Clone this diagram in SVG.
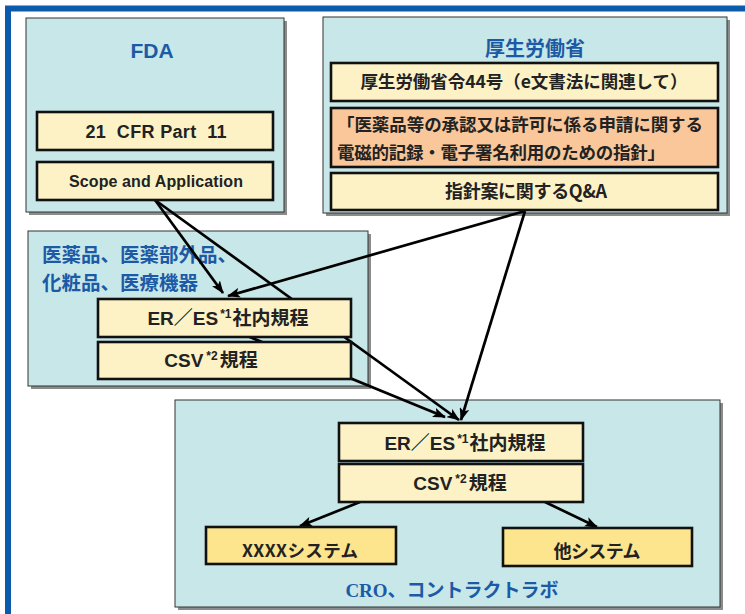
<svg xmlns="http://www.w3.org/2000/svg" width="745" height="614" viewBox="0 0 745 614">
<defs>
<style>
.cont{fill:#c8e7e9;stroke:#333;stroke-width:1}
.shadow{fill:#8a8c8c}
.box{fill:#fdf2c6;stroke:#111;stroke-width:2.6}
.box2{fill:#fde58e;stroke:#111;stroke-width:2.6}
.orange{fill:#f9c79a;stroke:#111;stroke-width:2.6}
.ttl{font-family:'Noto Sans CJK JP','Liberation Sans',sans-serif;font-weight:bold;fill:#1d5aa6}
.t{font-family:'Noto Sans CJK JP','Liberation Sans',sans-serif;font-weight:bold;fill:#222}
.lat{font-family:'Liberation Sans',Arial,sans-serif;font-weight:bold;fill:#222}
.l{font-family:'Liberation Sans',Arial,sans-serif}
.sup{font-family:'Liberation Sans',Arial,sans-serif;font-size:12px}
.conn{stroke:#000;stroke-width:2.7;fill:none}
</style>
<marker id="ah" markerUnits="userSpaceOnUse" markerWidth="13" markerHeight="10" refX="12" refY="5" orient="auto">
<path d="M0,0 L13,5 L0,10 L3,5 z" fill="#000"/>
</marker>
</defs>
<rect x="8" y="8.5" width="800" height="700" fill="#fff" stroke="#0b5aab" stroke-width="6"/>

<g id="fda">
<rect class="shadow" x="29" y="21" width="258" height="194"/>
<rect class="cont" x="26" y="18" width="258" height="194"/>
<text class="ttl" x="152" y="58" font-size="21" text-anchor="middle" style="font-family:'Liberation Sans',Arial,sans-serif">FDA</text>
</g>
<g id="mhlw">
<rect class="shadow" x="326" y="20" width="404" height="196"/>
<rect class="cont" x="323" y="17" width="404" height="196"/>
<text class="ttl" x="535" y="56" font-size="20" text-anchor="middle">厚生労働省</text>
</g>
<g id="pharma">
<rect class="shadow" x="31" y="234" width="340" height="155"/>
<rect class="cont" x="28" y="231" width="340" height="155"/>
<text class="ttl" x="42" y="262" font-size="19.5">医薬品、医薬部外品、</text>
<text class="ttl" x="42" y="290" font-size="19.5">化粧品、医療機器</text>
</g>
<g id="cro">
<rect class="shadow" x="178" y="403" width="545" height="207"/>
<rect class="cont" x="175" y="400" width="545" height="207"/>
<text class="ttl" x="452" y="597" font-size="19" text-anchor="middle"><tspan style="font-family:'Liberation Serif',serif">CRO</tspan>、コントラクトラボ</text>
</g>

<g id="connectors">
<line class="conn" x1="155" y1="200" x2="223" y2="293" marker-end="url(#ah)"/>
<line class="conn" x1="155" y1="200" x2="459" y2="420" marker-end="url(#ah)"/>
<line class="conn" x1="525" y1="211" x2="228" y2="296" marker-end="url(#ah)"/>
<line class="conn" x1="525" y1="211" x2="461" y2="420" marker-end="url(#ah)"/>
<line class="conn" x1="230" y1="329" x2="445" y2="417" marker-end="url(#ah)"/>
<line class="conn" x1="360" y1="502" x2="300" y2="526" marker-end="url(#ah)"/>
<line class="conn" x1="545" y1="502" x2="597" y2="527" marker-end="url(#ah)"/>
</g>

<g id="cfr">
<rect class="box" x="37" y="112" width="236" height="38"/>
<text class="lat" x="156" y="138" font-size="18" text-anchor="middle" style="white-space:pre" textLength="141">21  CFR Part  11</text>
</g>
<g id="scope">
<rect class="box" x="37" y="162" width="236" height="38"/>
<text class="lat" x="156" y="187" font-size="16" text-anchor="middle" textLength="174">Scope and Application</text>
</g>
<g id="ordinance">
<rect class="box" x="331" y="63" width="387" height="38"/>
<text class="t" x="524" y="88" font-size="17.5" text-anchor="middle" textLength="327">厚生労働省令44号（e文書法に関連して）</text>
</g>
<g id="guideline">
<rect class="orange" x="331" y="108" width="387" height="59"/>
<text class="t" x="337" y="131" font-size="17.5" textLength="366">「医薬品等の承認又は許可に係る申請に関する</text>
<text class="t" x="337" y="159" font-size="17.5" textLength="328">電磁的記録・電子署名利用のための指針」</text>
</g>
<g id="qa">
<rect class="box" x="331" y="173" width="387" height="37"/>
<text class="t" x="526" y="198" text-anchor="middle" font-size="18" textLength="162">指針案に関するQ&amp;A</text>
</g>
<g id="pharma-eres">
<rect class="box" x="98" y="299" width="253" height="38"/>
<text class="t" x="228" y="325" text-anchor="middle" font-size="19"><tspan class="l">ER</tspan>／<tspan class="l">ES</tspan><tspan class="sup" dx="2" dy="-7">*1</tspan><tspan dx="1" dy="7">社内規程</tspan></text>
</g>
<g id="pharma-csv">
<rect class="box" x="98" y="342" width="253" height="37"/>
<text class="t" x="211" y="367" text-anchor="middle" font-size="19"><tspan class="l">CSV</tspan><tspan class="sup" dx="3" dy="-7">*2</tspan><tspan dx="2" dy="7">規程</tspan></text>
</g>
<g id="cro-eres">
<rect class="box" x="339" y="423" width="244" height="38"/>
<text class="t" x="465" y="450" text-anchor="middle" font-size="19"><tspan class="l">ER</tspan>／<tspan class="l">ES</tspan><tspan class="sup" dx="2" dy="-7">*1</tspan><tspan dx="1" dy="7">社内規程</tspan></text>
</g>
<g id="cro-csv">
<rect class="box" x="339" y="464" width="244" height="38"/>
<text class="t" x="460" y="490" text-anchor="middle" font-size="19"><tspan class="l">CSV</tspan><tspan class="sup" dx="3" dy="-7">*2</tspan><tspan dx="2" dy="7">規程</tspan></text>
</g>
<g id="xxxx">
<rect class="box2" x="206" y="527" width="190" height="37"/>
<text class="t" x="300" y="557" font-size="17.5" text-anchor="middle" textLength="116">XXXXシステム</text>
</g>
<g id="other">
<rect class="box2" x="503" y="528" width="189" height="38"/>
<text class="t" x="597" y="558" text-anchor="middle" font-size="18" textLength="87">他システム</text>
</g>
</svg>
